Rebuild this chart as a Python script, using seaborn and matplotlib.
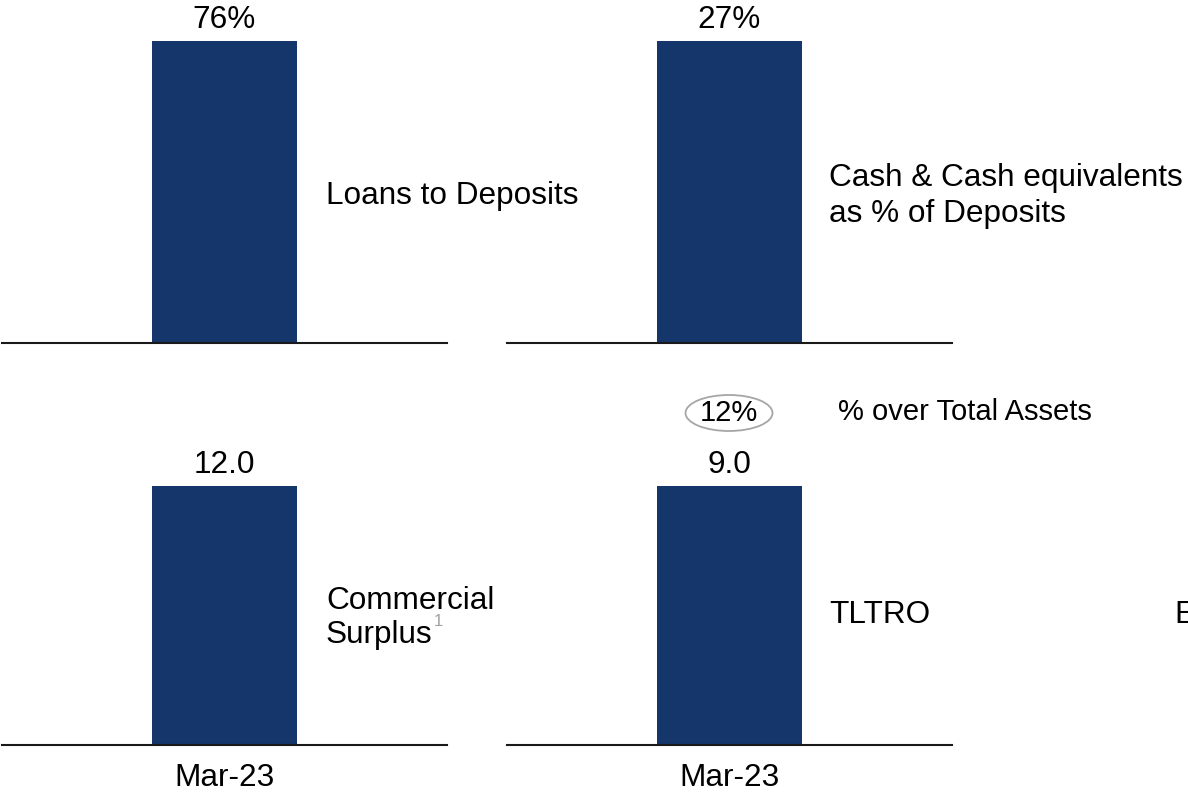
import matplotlib
matplotlib.use("Agg")
import matplotlib.pyplot as plt
from matplotlib.patches import Ellipse
import seaborn as sns
import pandas as pd

# ---------------- data ----------------
categories = ["Mar-23"]
ratio_names = ["Loans to Deposits", "Cash & Cash equivalents\nas % of Deposits"]
ratio_values = [76, 27]
ratio_labels = ["76%", "27%"]
liquidity_names = ["Commercial\nSurplus", "TLTRO"]
liquidity_values = [12.0, 9.0]
liquidity_labels = ["12.0", "9.0"]
tltro_share_label = "12%"
tltro_share_caption = "% over Total Assets"
footnote_mark = "1"
cut_text = "E"

# ---------------- style ----------------
sns.set_theme(style="white")
plt.rcParams["font.family"] = ["Liberation Sans", "DejaVu Sans"]
plt.rcParams["text.color"] = "black"

W, H = 1188, 793
fig = plt.figure(figsize=(W / 100, H / 100), dpi=100)
BAR = "#15366a"
FS = 22.7


def rect(x0, x1, ybot, ytop):
    return [x0 / W, 1 - ybot / H, (x1 - x0) / W, (ybot - ytop) / H]


def fpos(x, y):
    return x / W, 1 - y / H


panels = [
    (rect(2, 447, 343, 41), ratio_values[0], ratio_labels[0], False),
    (rect(507, 952, 343, 41), ratio_values[1], ratio_labels[1], False),
    (rect(2, 447, 745, 486), liquidity_values[0], liquidity_labels[0], True),
    (rect(507, 952, 745, 486), liquidity_values[1], liquidity_labels[1], True),
]

for r, val, lab, show_x in panels:
    ax = fig.add_axes(r)
    df = pd.DataFrame({"period": categories, "value": [val]})
    sns.barplot(data=df, x="period", y="value", color=BAR, saturation=1,
                width=0.328, ax=ax, linewidth=0)
    ax.set_xlim(-0.5, 0.5)
    ax.set_ylim(0, val)
    ax.set_xlabel("")
    ax.set_ylabel("")
    ax.set_yticks([])
    for s in ("top", "left", "right"):
        ax.spines[s].set_visible(False)
    ax.spines["bottom"].set_color("#1a1a1a")
    ax.spines["bottom"].set_linewidth(1.5)
    ax.patch.set_alpha(0)
    ax.tick_params(axis="x", length=0, pad=13, labelsize=FS,
                   labelbottom=show_x, colors="black")
    ax.annotate(lab, xy=(0, val), xytext=(0, 9), textcoords="offset points",
                ha="center", va="baseline", fontsize=FS, color="black",
                annotation_clip=False)

# category captions
fig.text(*fpos(326, 196), ratio_names[0], ha="left", va="center", fontsize=FS)
fig.text(*fpos(829, 196), ratio_names[1], ha="left", va="center", fontsize=FS,
         linespacing=1.22)
fig.text(*fpos(326, 618), liquidity_names[0], ha="left", va="center",
         fontsize=FS, linespacing=1.2)
fig.text(*fpos(434, 621), footnote_mark, ha="left", va="center",
         fontsize=12, color="#a0a0a0")
fig.text(*fpos(829, 615), liquidity_names[1], ha="left", va="center",
         fontsize=FS)
fig.text(*fpos(1174, 615), cut_text, ha="left", va="center", fontsize=FS)

# % over total assets bubble
fig.patches.append(Ellipse(fpos(729, 413), 87 / W, 36 / H,
                           transform=fig.transFigure, facecolor="white",
                           edgecolor="#a6a6a6", linewidth=1.3))
fig.text(*fpos(729, 413), tltro_share_label, ha="center", va="center",
         fontsize=21)
fig.text(*fpos(838, 412), tltro_share_caption, ha="left", va="center",
         fontsize=21)

fig.savefig("out.png", dpi=100)
